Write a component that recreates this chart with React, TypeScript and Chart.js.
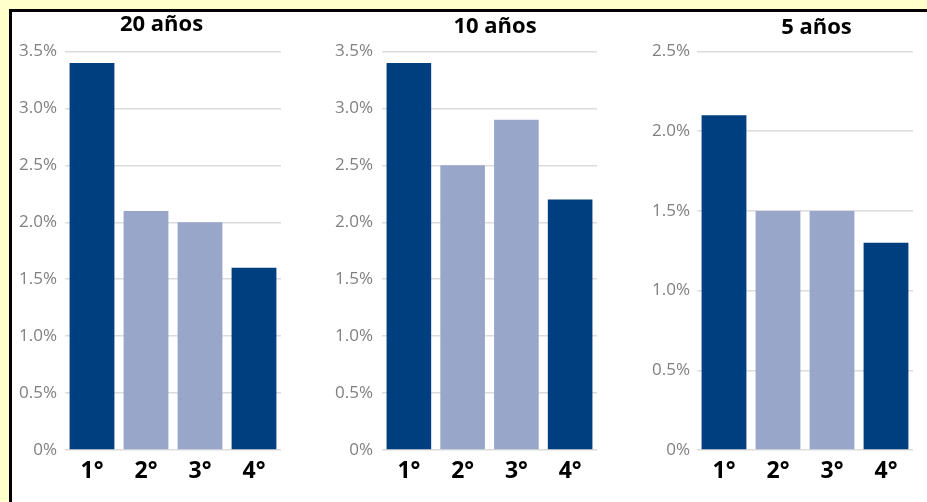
import React, { useEffect, useRef } from "react";
import { Chart, registerables } from "chart.js";

Chart.register(...registerables);

const categories = ["1°", "2°", "3°", "4°"];
const values20 = [3.4, 2.1, 2.0, 1.6];
const values10 = [3.4, 2.5, 2.9, 2.2];
const values5 = [2.1, 1.5, 1.5, 1.3];
const titles = ["20 años", "10 años", "5 años"];
const axisMax = [3.5, 3.5, 2.5];
const axisStep = 0.5;
const barColors = ["#003F7F", "#98A6CA", "#98A6CA", "#003F7F"];

type PanelProps = {
  values: number[];
  max: number;
  title: string;
  left: number;
  width: number;
  yWidth: number;
  tickPad: number;
  rightPad: number;
  titleCenter: number;
  titleTop: number;
};

function Panel(p: PanelProps) {
  const ref = useRef<HTMLCanvasElement | null>(null);
  useEffect(() => {
    if (!ref.current) return;
    const chart = new Chart(ref.current, {
      type: "bar",
      data: {
        labels: categories,
        datasets: [
          {
            data: p.values,
            backgroundColor: barColors,
            borderWidth: 0,
            barPercentage: 0.83,
            categoryPercentage: 1,
          },
        ],
      },
      options: {
        responsive: false,
        animation: false,
        layout: { padding: { top: 39.5, right: p.rightPad, bottom: 0, left: 0 } },
        plugins: {
          legend: { display: false },
          tooltip: { enabled: false },
          title: { display: false },
        },
        scales: {
          x: {
            grid: { display: false, drawTicks: false },
            border: { display: false },
            ticks: {
              color: "#000000",
              padding: 8,
              maxRotation: 0,
              font: { family: "Open Sans", size: 23, weight: "bold" },
            },
            afterFit: (s: any) => {
              s.height = 52;
            },
          },
          y: {
            min: 0,
            max: p.max,
            grid: { color: "#DCDCDC", drawTicks: false, lineWidth: 1.5 },
            border: { display: false },
            ticks: {
              stepSize: axisStep,
              padding: p.tickPad,
              color: "#808080",
              font: { family: "Open Sans", size: 17 },
              callback: (v: any) => (Number(v) === 0 ? "0%" : Number(v).toFixed(1) + "%"),
            },
            afterFit: (s: any) => {
              s.width = p.yWidth;
            },
          },
        },
      } as any,
    });
    return () => chart.destroy();
  }, []);
  return (
    <>
      <canvas
        ref={ref}
        width={p.width}
        height={490}
        style={{ position: "absolute", left: p.left, top: 12, width: p.width, height: 490 }}
      />
      <div
        style={{
          position: "absolute",
          left: p.titleCenter - 100,
          width: 200,
          top: p.titleTop,
          textAlign: "center",
          fontFamily: "Open Sans",
          fontWeight: "bold",
          fontSize: 22,
          lineHeight: "22px",
          color: "#000",
        }}
      >
        {p.title}
      </div>
    </>
  );
}

export default function App() {
  return (
    <div
      style={{
        position: "fixed",
        left: 0,
        top: 0,
        width: 927,
        height: 502,
        background: "#FFFFCC",
        overflow: "hidden",
      }}
    >
      <div
        style={{
          position: "absolute",
          left: 9,
          top: 9,
          width: 940,
          height: 520,
          background: "#FFFFFF",
          borderTop: "3px solid #000",
          borderLeft: "3px solid #000",
        }}
      />
      <Panel values={values20} max={axisMax[0]} title={titles[0]} left={12} width={290} yWidth={53} tickPad={8} rightPad={21} titleCenter={161.5} titleTop={10.5} />
      <Panel values={values10} max={axisMax[1]} title={titles[1]} left={312} width={300} yWidth={70} tickPad={9} rightPad={15} titleCenter={495} titleTop={13} />
      <Panel values={values5} max={axisMax[2]} title={titles[2]} left={630} width={297} yWidth={67} tickPad={7} rightPad={14} titleCenter={816.5} titleTop={13.5} />
    </div>
  );
}
